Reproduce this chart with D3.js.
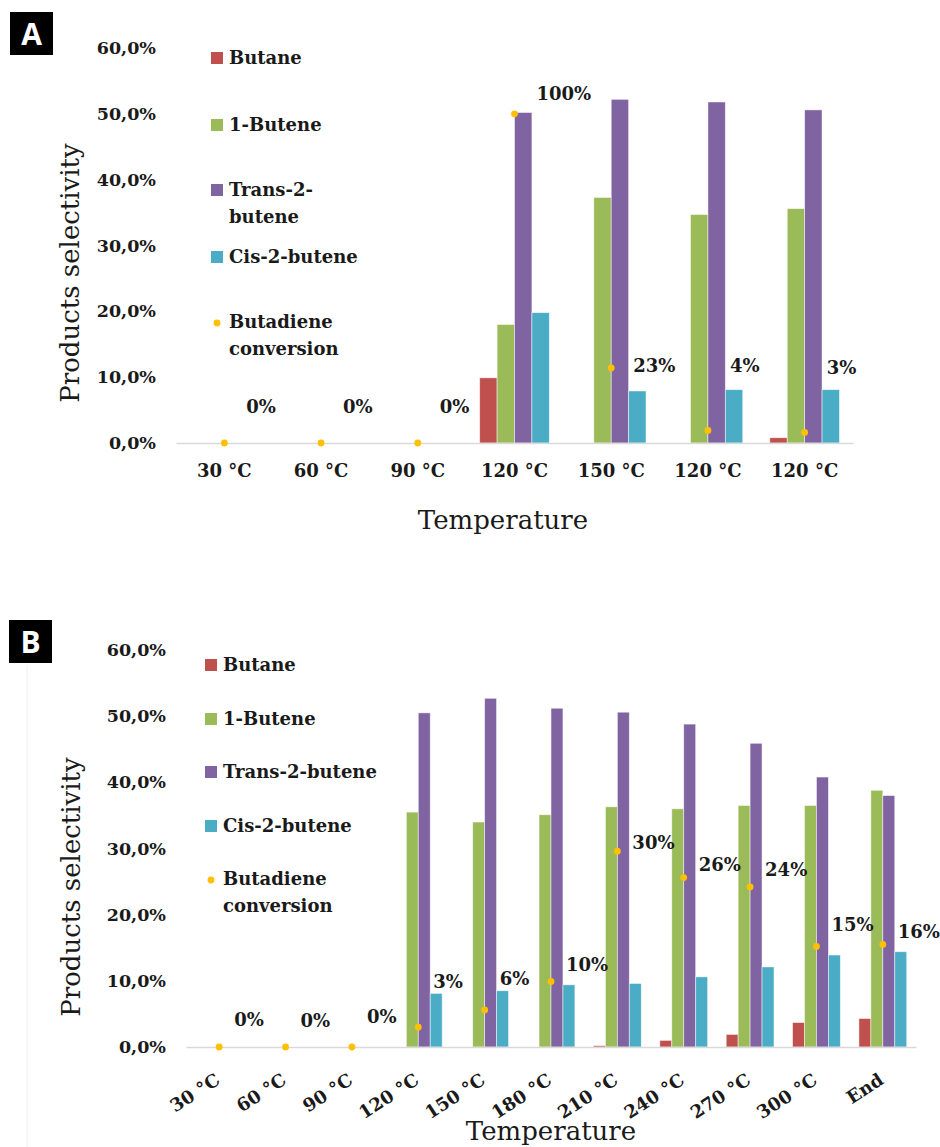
<!DOCTYPE html>
<html>
<head>
<meta charset="utf-8">
<script src="https://cdn.jsdelivr.net/npm/d3@7"></script>
<style>
  body { margin: 0; background: #fff; }
  svg text { font-family: "DejaVu Serif", serif; fill: #1a1a1a; }
</style>
</head>
<body>
<svg id="chart" width="940" height="1147"></svg>
<script>
var seriesNames = ["Butane", "1-Butene", "Trans-2-butene", "Cis-2-butene"];
var yTicks = [0, 10, 20, 30, 40, 50, 60];

// panel A
var tempsA = ["30 °C", "60 °C", "90 °C", "120 °C", "150 °C", "120 °C", "120 °C"];
var butaneA = [0, 0, 0, 9.9, 0, 0, 0.8];
var buteneA = [0, 0, 0, 18.0, 37.3, 34.7, 35.6];
var transA = [0, 0, 0, 50.2, 52.2, 51.8, 50.6];
var cisA = [0, 0, 0, 19.8, 7.9, 8.1, 8.1];
var conversionA = [0, 0, 0, 100, 22.8, 3.8, 3.2];
var convLabelYA = [5.5, 5.5, 5.5, 53.1, 11.8, 11.7, 11.4];

// panel B
var tempsB = ["30 °C", "60 °C", "90 °C", "120 °C", "150 °C", "180 °C", "210 °C", "240 °C", "270 °C", "300 °C", "End"];
var butaneB = [0, 0, 0, 0, 0, 0, 0.2, 1.0, 1.9, 3.7, 4.3];
var buteneB = [0, 0, 0, 35.5, 34.0, 35.1, 36.3, 36.0, 36.5, 36.5, 38.8];
var transB = [0, 0, 0, 50.5, 52.7, 51.2, 50.6, 48.8, 45.9, 40.8, 38.0];
var cisB = [0, 0, 0, 8.1, 8.5, 9.4, 9.6, 10.6, 12.1, 13.9, 14.4];
var conversionB = [0, 0, 0, 3.0, 5.6, 9.9, 29.6, 25.6, 24.2, 15.2, 15.5];
var convLabelYB = [4.1, 3.9, 4.6, 9.9, 10.3, 12.5, 30.9, 27.5, 26.8, 18.5, 17.4];

var legendA = [["Butane"], ["1-Butene"], ["Trans-2-", "butene"], ["Cis-2-butene"], ["Butadiene", "conversion"]];
var legendB = [["Butane"], ["1-Butene"], ["Trans-2-butene"], ["Cis-2-butene"], ["Butadiene", "conversion"]];

var color = d3.scaleOrdinal()
  .domain(seriesNames)
  .range(["#c0504d", "#9bbb59", "#8064a2", "#4bacc6"]);
var dotColor = "#ffc000";

var locale = d3.formatLocale({ decimal: ",", thousands: ".", grouping: [3], currency: ["", ""] });
var fmtTick = locale.format(".1f");

var svg = d3.select("#chart");

function drawPanel(p) {
  var g = svg.append("g");
  var n = p.categories.length;

  var x = d3.scaleBand().domain(d3.range(n)).range(p.xRange);
  var bw = x.bandwidth();
  var inner = d3.scaleBand().domain(seriesNames).range([0, bw * 0.72]);
  var y = d3.scaleLinear().domain([0, 60]).range(p.yRange);
  var y2 = d3.scaleLinear().domain([0, p.convMax]).range(p.yRange);

  // bars
  var rows = [];
  p.series.forEach(function(vals, si) {
    vals.forEach(function(v, i) {
      if (v > 0) rows.push({ i: i, s: seriesNames[si], v: v });
    });
  });
  g.selectAll("rect.bar")
    .data(rows)
    .enter()
    .append("rect")
    .attr("class", "bar")
    .attr("x", function(d) { return x(d.i) + bw * 0.14 + inner(d.s); })
    .attr("y", function(d) { return y(d.v); })
    .attr("width", inner.bandwidth())
    .attr("height", function(d) { return y(0) - y(d.v); })
    .attr("fill", function(d) { return color(d.s); })
    .attr("stroke", "#fff")
    .attr("stroke-opacity", 0.6)
    .attr("stroke-width", 0.8);

  // x axis
  var xAxis = g.append("g")
    .attr("transform", "translate(0," + y(0) + ")")
    .call(d3.axisBottom(x).tickSize(0).tickPadding(p.xTickPad)
      .tickFormat(function(i) { return p.categories[i]; }));
  xAxis.select(".domain").attr("stroke", "#d9d9d9").attr("stroke-width", 1.5);
  xAxis.selectAll("text")
    .attr("font-family", "DejaVu Serif")
    .attr("font-weight", "bold")
    .attr("font-size", 18)
    .attr("fill", "#1a1a1a");
  if (p.rotateTicks) {
    xAxis.selectAll("text")
      .attr("x", 0).attr("y", 0).attr("dy", null)
      .attr("text-anchor", "end")
      .attr("transform", "translate(2,36) rotate(-33)");
  }

  // y axis
  var yAxis = g.append("g")
    .attr("transform", "translate(" + p.yLabelRight + ",0)")
    .call(d3.axisLeft(y).tickValues(yTicks).tickSize(0).tickPadding(0)
      .tickFormat(function(d) { return fmtTick(d) + "%"; }));
  yAxis.select(".domain").remove();
  yAxis.selectAll("text")
    .attr("font-family", "DejaVu Serif")
    .attr("font-weight", "bold")
    .attr("font-size", 17.5)
    .attr("fill", "#1a1a1a");

  // conversion dots + labels
  g.selectAll("circle.conv")
    .data(p.conversion)
    .enter()
    .append("circle")
    .attr("class", "conv")
    .attr("cx", function(d, i) { return x(i) + bw / 2; })
    .attr("cy", function(d) { return y2(d); })
    .attr("r", 3.4)
    .attr("fill", dotColor);

  g.selectAll("text.conv-label")
    .data(p.conversion)
    .enter()
    .append("text")
    .attr("class", "conv-label")
    .attr("x", function(d, i) { return x(i) + bw / 2 + p.labelDx; })
    .attr("y", function(d, i) { return y(p.labelY[i]); })
    .attr("dy", "0.35em")
    .attr("font-size", 18)
    .attr("font-weight", "bold")
    .text(function(d) { return Math.round(d) + "%"; });

  // axis titles
  g.append("text")
    .attr("transform", "translate(" + p.yTitle[0] + "," + p.yTitle[1] + ") rotate(-90)")
    .attr("text-anchor", "middle")
    .attr("dy", "0.35em")
    .attr("font-size", 26)
    .text("Products selectivity");
  g.append("text")
    .attr("x", p.xTitle[0])
    .attr("y", p.xTitle[1])
    .attr("text-anchor", "middle")
    .attr("font-size", 26)
    .text("Temperature");

  // legend
  var leg = g.append("g").attr("transform", "translate(" + p.legendX + ",0)");
  p.legend.forEach(function(lines, k) {
    var ly = p.legendY[k];
    var item = leg.append("g").attr("transform", "translate(0," + ly + ")");
    if (k < seriesNames.length) {
      item.append("rect")
        .attr("x", 0).attr("y", -6)
        .attr("width", 12).attr("height", 12)
        .attr("fill", color(seriesNames[k]));
    } else {
      item.append("circle").attr("cx", 6).attr("cy", 1).attr("r", 3.4).attr("fill", dotColor);
    }
    lines.forEach(function(t, li) {
      item.append("text")
        .attr("x", 18)
        .attr("y", li * 27)
        .attr("dy", "0.35em")
        .attr("font-size", 18)
        .attr("font-weight", "bold")
        .text(t);
    });
  });

  // panel letter
  g.append("rect")
    .attr("x", p.tag[0]).attr("y", p.tag[1])
    .attr("width", 43).attr("height", 43)
    .attr("fill", "#000");
  g.append("text")
    .attr("x", p.tag[0] + 21.5)
    .attr("y", p.tag[1] + 22)
    .attr("dy", "0.36em")
    .attr("text-anchor", "middle")
    .style("font-family", "'Open Sans', sans-serif")
    .attr("font-weight", "bold")
    .attr("font-size", 30)
    .style("fill", "#fff")
    .text(p.tagText);
}

drawPanel({
  categories: tempsA,
  series: [butaneA, buteneA, transA, cisA],
  conversion: conversionA,
  convMax: 120,
  labelY: convLabelYA,
  labelDx: 22,
  xRange: [176, 853],
  yRange: [443, 48],
  xTickPad: 21,
  rotateTicks: false,
  yLabelRight: 156,
  yTitle: [70, 273],
  xTitle: [503, 529],
  legend: legendA,
  legendX: 211,
  legendY: [58, 125, 190, 257, 322],
  tag: [10, 12],
  tagText: "A"
});

svg.append("line")
  .attr("x1", 27).attr("x2", 27)
  .attr("y1", 665).attr("y2", 1147)
  .attr("stroke", "#f0f0f0");

drawPanel({
  categories: tempsB,
  series: [butaneB, buteneB, transB, cisB],
  conversion: conversionB,
  convMax: 60,
  labelY: convLabelYB,
  labelDx: 15,
  xRange: [186, 916],
  yRange: [1047, 650],
  xTickPad: 0,
  rotateTicks: true,
  yLabelRight: 166,
  yTitle: [71, 887],
  xTitle: [551, 1140],
  legend: legendB,
  legendX: 205,
  legendY: [665, 719, 772, 826, 879],
  tag: [9, 620],
  tagText: "B"
});
</script>
</body>
</html>
